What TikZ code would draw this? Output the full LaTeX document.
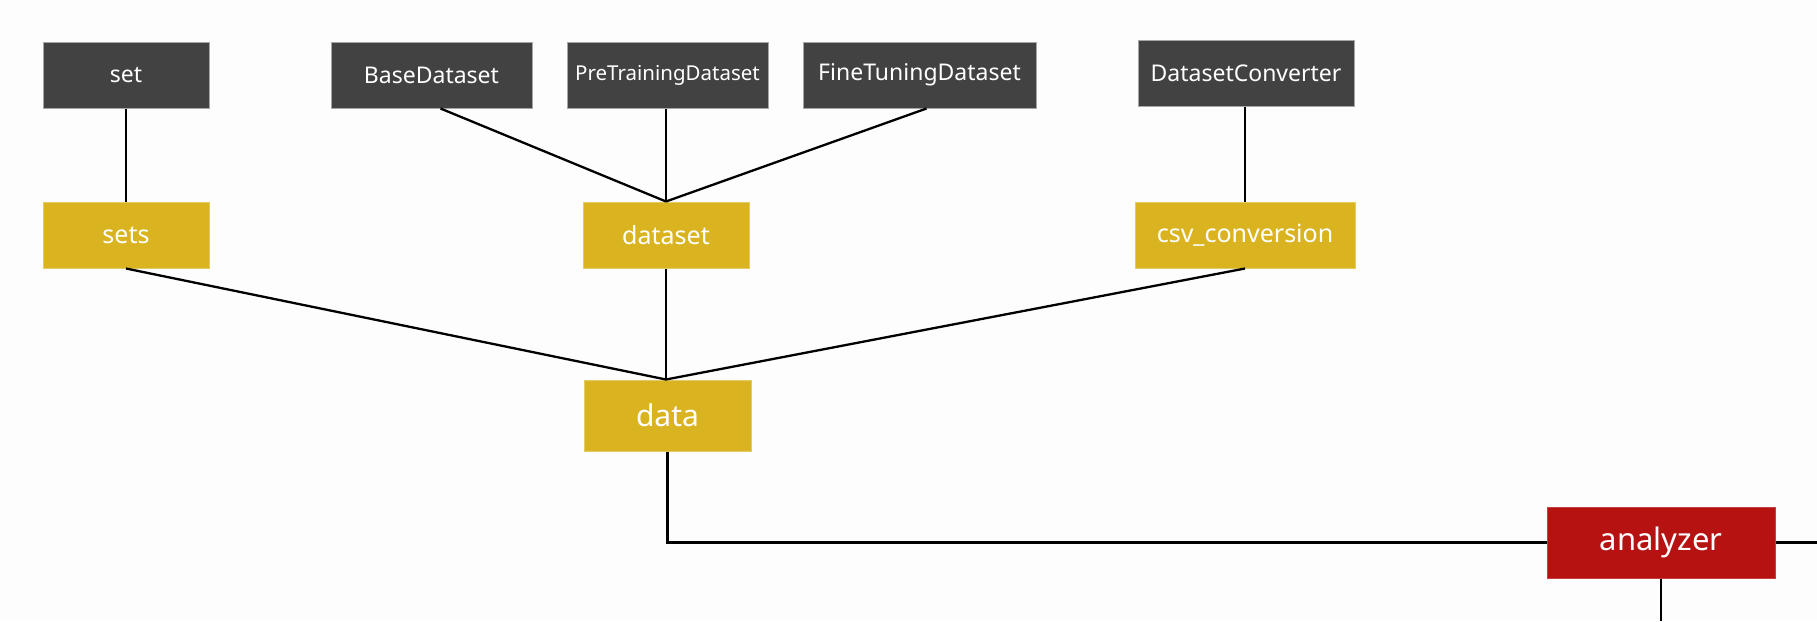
\documentclass[tikz,border=0pt]{standalone}
\usepackage{fontspec}
\setmainfont{Noto Sans}
\definecolor{darkbox}{HTML}{424242}
\definecolor{goldbox}{HTML}{DAB420}
\definecolor{redbox}{HTML}{B71212}
\definecolor{bg}{HTML}{FDFDFD}
\begin{document}
\begin{tikzpicture}[x=1pt,y=-1pt,
  box/.style={rectangle,inner sep=0pt,text=white,anchor=center,line width=1pt},
  classbox/.style={box,fill=darkbox,draw=black!35,font=\fontsize{23}{27}\selectfont},
  modbox/.style={box,fill=goldbox,draw=goldbox!70!white,font=\fontsize{25}{29}\selectfont},
  pkgbox/.style={box,fill=goldbox,draw=goldbox!70!white,font=\fontsize{30}{34}\selectfont},
  rootbox/.style={box,fill=redbox,draw=redbox!80!white,font=\fontsize{31}{36}\selectfont},
  link/.style={draw=black,line width=2.3pt}]
\fill[bg] (0,0) rectangle (1817,621);
\useasboundingbox (0,0) rectangle (1817,621);
% class boxes
\node[classbox,minimum width=166,minimum height=66] (set) at (126,75) {set};
\node[classbox,minimum width=201,minimum height=66] (base) at (431.5,75) {BaseDataset};
\node[classbox,minimum width=201,minimum height=66,font=\fontsize{20.5}{24}\selectfont] (pre) at (667.5,75) {PreTrainingDataset};
\node[classbox,minimum width=233,minimum height=66] (fine) at (919.5,75) {FineTuningDataset};
\node[classbox,minimum width=216,minimum height=66] (conv) at (1246,73.5) {DatasetConverter};
% module boxes
\node[modbox,minimum width=166,minimum height=66] (sets) at (126,235) {sets};
\node[modbox,minimum width=166,minimum height=66] (dataset) at (666,235) {dataset};
\node[modbox,minimum width=220,minimum height=66] (csv) at (1245,235) {csv\_conversion};
\node[pkgbox,minimum width=167,minimum height=71] (data) at (667.5,415.5) {data};
\node[rootbox,minimum width=228,minimum height=71] (analyzer) at (1661,542.5) {analyzer};
% free ends
\coordinate (rightend) at (1817,542.5);
\coordinate (bottomend) at (1661,621);
% connectors
\draw[link] (set.south) -- (sets.north);
\draw[link] ([xshift=9]base.south) -- (dataset.north);
\draw[link] (pre.south -| dataset.north) -- (dataset.north);
\draw[link] ([xshift=7]fine.south) -- (dataset.north);
\draw[link] (csv.north |- conv.south) -- (csv.north);
\draw[link] (sets.south) -- ([xshift=-1.5]data.north);
\draw[link] (dataset.south) -- ([xshift=-1.5]data.north);
\draw[link] (csv.south) -- ([xshift=-1.5]data.north);
\draw[link] (data.south) |- (analyzer.west);
\draw[link] (analyzer.east) -- (rightend);
\draw[link] (analyzer.south) -- (bottomend);
\end{tikzpicture}
\end{document}
